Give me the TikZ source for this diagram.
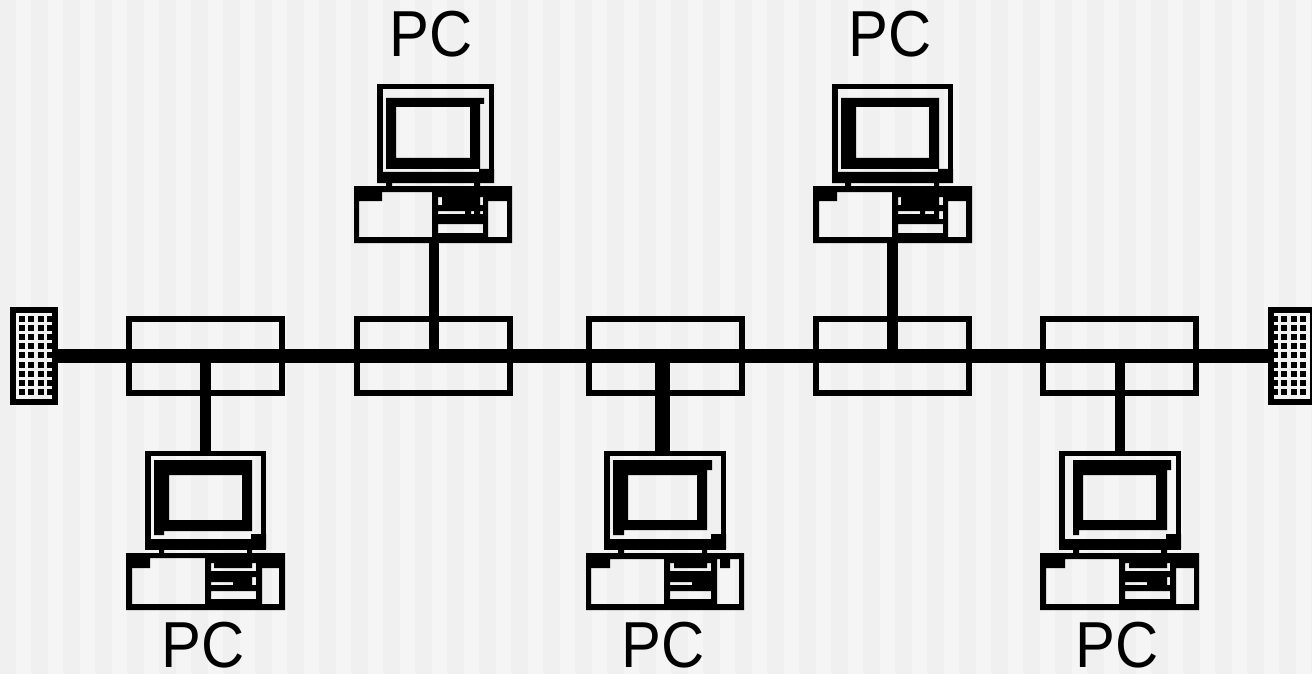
\documentclass[tikz,border=0pt]{standalone}
\usepackage{fontspec}
\setmainfont[FakeStretch=0.92]{Liberation Sans}
\definecolor{fondo}{HTML}{F0F0F0}
\definecolor{franja}{HTML}{F5F5F5}
\tikzstyle{caja}= [rectangle,draw,black,line width=6pt,minimum width=153pt,minimum height=74pt,inner sep=0pt]
\tikzstyle{taco}= [rectangle,draw,black,line width=6pt,minimum width=42pt,minimum height=92pt,inner sep=0pt]
\tikzstyle{monitor}= [rectangle,draw,black,line width=5.5pt,minimum height=93.5pt,inner sep=0pt]
\tikzstyle{gabinete}= [rectangle,draw,black,line width=5pt,minimum height=52pt,inner sep=0pt]
\tikzstyle{etiqueta}= [anchor=base,inner sep=0pt,font=\fontsize{65pt}{65pt}\selectfont]
\tikzstyle{bus}= [black,line width=14pt]
\tikzstyle{enlace}= [black,line width=11pt]

\begin{document}
\begin{tikzpicture}[x=1pt,y=-1pt]

		\useasboundingbox (0,0) rectangle (1312,674);
		\fill[fondo] (0,0) rectangle (1312,674);
		\foreach \x in {16,48,...,1312} {
			\fill[franja] (\x,0) rectangle (\x+15,674);
		}

		\node (caja1) at (205.5,356) [caja] {};
		\node (caja2) at (433,356) [caja] {};
		\node (caja3) at (665,356) [caja] {};
		\node (caja4) at (892.5,356) [caja] {};
		\node (caja5) at (1119,356) [caja] {};

		\node (taco1) at (34,356) [taco] {};
		\node (taco2) at (1292,356) [taco] {};
		\foreach \f in {0,...,8} {
			\foreach \c in {0,...,3} {
				\fill (19+\c*9.4,316+\f*9.1) rectangle +(6,6);
				\fill (1272+\c*9.4,316+\f*9.1) rectangle +(6,6);
			}
		}

		\node (pc1) at (203,667) [etiqueta] {PC};
		\node (pc2) at (431,57) [etiqueta] {PC};
		\node (pc3) at (663,667) [etiqueta] {PC};
		\node (pc4) at (890,57) [etiqueta] {PC};
		\node (pc5) at (1117.5,667) [etiqueta] {PC};

		\node (mon2) at (435.5,133.5) [monitor,minimum width=111.5pt] {};
		\fill (377,172) rectangle (494,183) (479,169) rectangle (494,172);
		\fill[even odd rule] (386,98) -- (484,98) -- (484,104) -- (480,104) -- (480,169) -- (386,169) -- cycle (396,107) rectangle (470,158);
		\fill (386,183) rectangle (392,186) (474,183) rectangle (480,186);
		\node (gab2) at (433,214.5) [gabinete,minimum width=153pt] {};
		\fill[even odd rule] (354,186) rectangle (512,243)
			(382,192) -- (432,192) -- (432,237) -- (359,237) -- (359,201) -- (382,201) -- cycle
			(488,201) rectangle (507,237)
			(438,197) rectangle (442,205) (480,197) rectangle (483,205)
			(438,211) rectangle (465,214) (471,211) rectangle (474,214) (480,211) rectangle (483,214)
			(438,224) rectangle (483,233);

		\node (mon4) at (892.5,133.5) [monitor,minimum width=115.5pt] {};
		\fill (832,172) rectangle (953,183) (938,169) rectangle (953,172);
		\fill[even odd rule] (841,98) rectangle (939,169) (856,107) rectangle (929,158);
		\fill (845,183) rectangle (851,186) (934,183) rectangle (939,186);
		\node (gab4) at (892.5,214.5) [gabinete,minimum width=154pt] {};
		\fill[even odd rule] (813,186) rectangle (972,243)
			(837,192) -- (892,192) -- (892,237) -- (819,237) -- (819,201) -- (837,201) -- cycle
			(948,201) rectangle (966,237)
			(898,197) rectangle (901,205) (939,197) rectangle (943,205)
			(898,211) rectangle (920,214) (925,211) rectangle (934,214) (939,211) rectangle (943,219)
			(898,224) rectangle (943,233);

		\node (mon1) at (205.5,500) [monitor,minimum width=115.5pt] {};
		\fill (145,539) rectangle (266,549) (251,534) rectangle (266,539);
		\fill[even odd rule] (154,460) -- (252,460) -- (252,531) -- (164,531) -- (164,535) -- (154,535) -- cycle (169,475) rectangle (242,520);
		\fill (159,549) rectangle (164,553) (247,549) rectangle (252,553);
		\node (gab1) at (205.5,581.5) [gabinete,minimum width=154pt] {};
		\fill[even odd rule] (126,553) rectangle (285,610)
			(150,558) -- (205,558) -- (205,604) -- (132,604) -- (132,568) -- (150,568) -- cycle
			(262,568) rectangle (279,604)
			(211,563) -- (214,563) -- (214,568) -- (252,568) -- (252,563) -- (256,563) -- (256,571) -- (211,571) -- cycle
			(211,582) rectangle (233,585) (252,577) rectangle (256,585)
			(211,591) rectangle (256,599);

		\node (mon3) at (665,500) [monitor,minimum width=116.5pt] {};
		\fill (604,539) rectangle (726,549) (711,534) rectangle (726,539);
		\fill[even odd rule] (613,460) -- (712,460) -- (712,470) -- (707,470) -- (707,530) -- (624,530) -- (624,535) -- (613,535) -- cycle (628,475) rectangle (697,520);
		\fill (618,549) rectangle (624,553) (702,549) rectangle (707,553);
		\node (gab3) at (665,581.5) [gabinete,minimum width=153pt] {};
		\fill[even odd rule] (586,553) rectangle (744,610)
			(610,559) -- (664,559) -- (664,604) -- (591,604) -- (591,568) -- (610,568) -- cycle
			(717,559) -- (720,559) -- (720,568) -- (730,568) -- (730,559) -- (739,559) -- (739,604) -- (717,604) -- cycle
			(670,563) -- (674,563) -- (674,568) -- (707,568) -- (707,563) -- (711,563) -- (711,571) -- (670,571) -- cycle
			(670,582) rectangle (692,585)
			(670,591) rectangle (711,599);

		\node (mon5) at (1120,500) [monitor,minimum width=116.5pt] {};
		\fill (1059,539) rectangle (1181,549) (1166,534) rectangle (1181,539);
		\fill[even odd rule] (1073,460) -- (1171,460) -- (1171,470) -- (1167,470) -- (1167,530) -- (1079,530) -- (1079,535) -- (1073,535) -- cycle (1083,475) rectangle (1156,520);
		\fill (1073,549) rectangle (1079,553) (1161,549) rectangle (1167,553);
		\node (gab5) at (1119.5,581.5) [gabinete,minimum width=154pt] {};
		\fill[even odd rule] (1040,553) rectangle (1199,610)
			(1065,559) -- (1119,559) -- (1119,604) -- (1046,604) -- (1046,568) -- (1065,568) -- cycle
			(1176,568) rectangle (1194,604)
			(1125,563) -- (1129,563) -- (1129,568) -- (1167,568) -- (1167,563) -- (1170,563) -- (1170,571) -- (1125,571) -- cycle
			(1125,582) rectangle (1147,585) (1167,577) rectangle (1170,585)
			(1125,591) rectangle (1170,599);

		\path[bus] (taco1.east) edge (taco2.west);

		\path[enlace] (caja1.center) edge (mon1.north);
		\path[enlace,line width=10pt] ([xshift=.5pt]caja2.center) edge ([xshift=.5pt]gab2.south);
		\path[enlace,line width=15pt] ([xshift=-2.5pt]caja3.center) edge ([xshift=-2.5pt]mon3.north);
		\path[enlace] (caja4.center) edge (gab4.south);
		\path[enlace,line width=10pt] ([xshift=1pt]caja5.center) edge (mon5.north);

	\end{tikzpicture}
\end{document}
